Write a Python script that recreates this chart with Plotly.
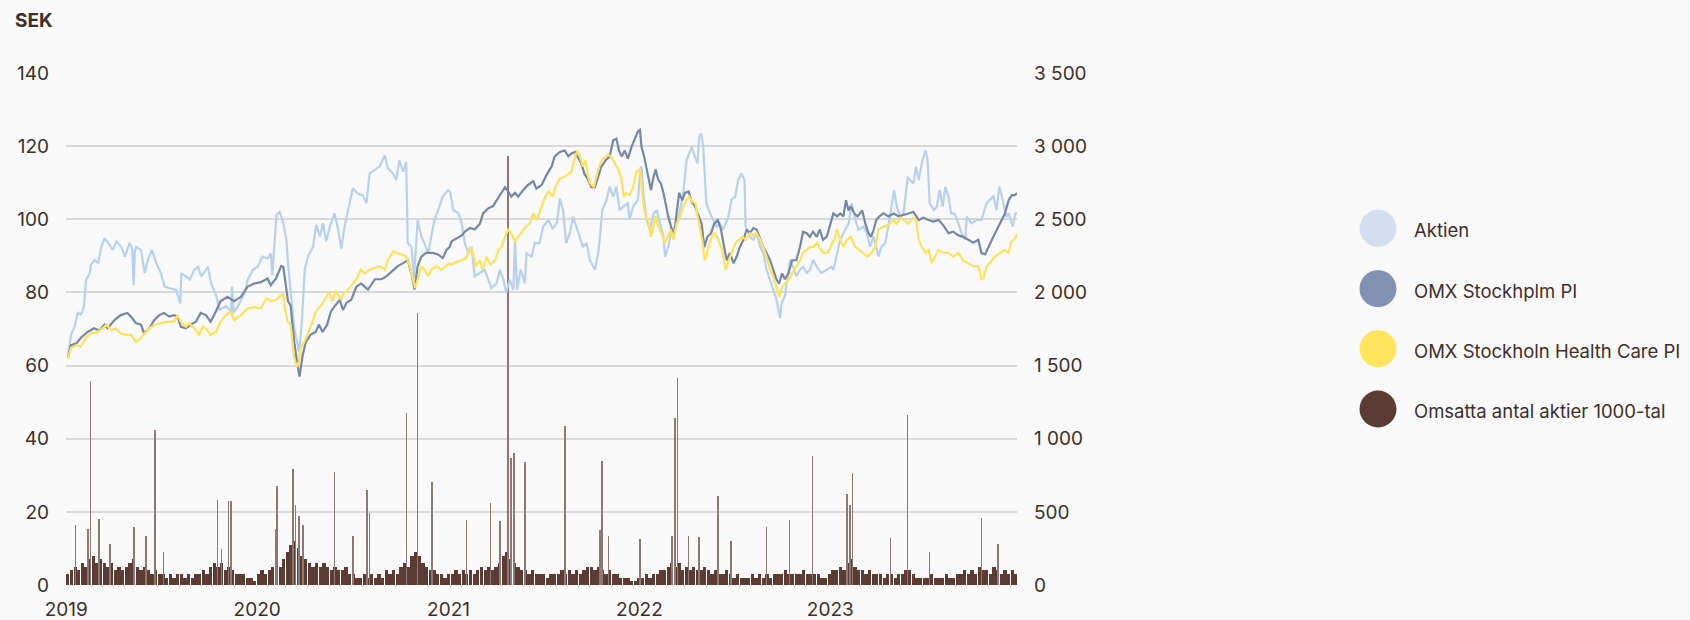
import pandas as pd
import plotly.graph_objects as go

# Day numbers are calendar days counted from 2019-01-01.
START = pd.Timestamp("2019-01-01")

# Share price, SEK (left axis)
aktien = [
    (3, 62.5), (9, 68.4), (16, 70.7), (22, 74.4), (28, 74), (32, 75.3), (34, 76.5), (38, 83.5), (45, 85.3),
    (47, 87.5), (54, 88.9), (61, 88), (67, 92.5), (73, 94.8), (83, 93), (89, 91.6), (96, 93.9), (105, 92.5),
    (112, 89.8), (121, 93.5), (126, 92), (129, 82), (131, 91), (134, 92.5), (143, 91.6), (150, 85.3), (156, 88.9),
    (164, 91.6), (172, 88), (181, 85.3), (188, 81.6), (198, 81.2), (210, 80.7), (218, 77), (220, 85.3), (229, 84.4),
    (236, 83.5), (245, 86.2), (252, 87), (258, 84.4), (271, 87), (277, 82.5), (287, 78.9), (293, 75.3), (306, 76.2),
    (315, 74.7), (317, 81.6), (320, 74.4), (328, 76.2), (341, 79.8), (347, 83.5), (357, 86.2), (366, 87),
    (375, 89.8), (385, 89.3), (391, 90.6), (394, 84.7), (402, 101.2), (408, 102), (415, 98.9), (421, 94.4),
    (424, 88), (431, 78), (436, 70), (442, 66), (445, 63.8), (450, 70.7), (453, 78), (456, 86.2), (462, 89.8),
    (472, 92.5), (478, 98.5), (485, 95.3), (491, 98.9), (497, 93.9), (504, 98), (513, 101.6), (520, 97.1),
    (526, 92), (532, 98), (539, 102.5), (548, 108.5), (558, 107), (567, 106.6), (574, 104.4), (580, 112.5),
    (590, 113.5), (599, 114.4), (609, 117.5), (615, 113.9), (625, 112.5), (631, 110.7), (637, 116.2), (644, 113),
    (650, 115.7), (653, 93.5), (660, 92.5), (665, 84), (672, 99.8), (679, 95.3), (685, 93.5), (692, 90.7),
    (698, 95.3), (704, 99.8), (711, 102.5), (720, 106.2), (730, 108),
    (734, 107.5), (740, 102.5), (750, 101.6), (756, 98.9), (762, 93.5), (769, 90.7), (775, 92.5), (781, 84.4),
    (791, 85.3), (800, 86.2), (807, 83.5), (813, 81.2), (823, 82.5), (829, 86.2), (836, 83.5), (841, 79.8),
    (848, 83.5), (855, 80.7), (858, 94.4), (862, 80.7), (869, 86.2), (877, 82.5), (880, 90.7), (890, 89.8),
    (896, 93.5), (905, 93.5), (912, 98), (922, 99.8), (930, 97.5), (938, 98.9), (944, 105.7), (950, 102.5),
    (956, 93.5), (963, 96.2), (969, 100.7), (975, 98), (982, 95.3), (988, 92.5), (995, 93.5), (1001, 88.9),
    (1011, 86.2), (1017, 90.7), (1020, 94.4), (1025, 102.5), (1033, 105.3), (1039, 108.9), (1046, 106.2),
    (1052, 108.9), (1058, 102.5), (1065, 103.5), (1074, 104.4), (1077, 99.8), (1084, 103.5), (1093, 105.3),
    (1098, 114),
    (1100, 114.4), (1104, 106.2), (1110, 99.8), (1116, 97.1), (1123, 101.6), (1129, 102.5), (1135, 98.9),
    (1142, 95.3), (1145, 89.8), (1151, 92.5), (1158, 97.1), (1164, 98), (1170, 99.8), (1180, 107.1),
    (1186, 116.2), (1196, 119.8), (1202, 117.1), (1207, 115.3), (1210, 122.5), (1214, 123.5), (1218, 119.8),
    (1221, 113.5), (1224, 104.4), (1231, 101.6), (1237, 99.8), (1244, 98), (1250, 98.9), (1256, 97.1),
    (1266, 100.7), (1272, 105.3), (1279, 106.2), (1285, 110.7), (1291, 112.5), (1297, 110.7), (1299, 98),
    (1307, 95.3), (1314, 94.4), (1320, 96.2), (1327, 92.5), (1333, 90.7), (1339, 86.2), (1346, 83.5),
    (1352, 80.7), (1358, 78), (1365, 73), (1368, 77.1), (1374, 78.9), (1384, 88.9), (1390, 87), (1396, 84.4),
    (1403, 86.2), (1409, 87), (1416, 85.3), (1422, 86.2), (1428, 88.9), (1435, 87), (1444, 85.3), (1454, 86.2),
    (1463, 87),
    (1467, 86.2), (1474, 90.7), (1480, 94.4), (1486, 96.2), (1496, 98.9), (1502, 104.4), (1509, 99.8),
    (1515, 97.1), (1524, 98), (1531, 96.2), (1537, 92.5), (1544, 95.3), (1550, 91.6), (1553, 89.8), (1559, 92.5),
    (1566, 93.5), (1572, 98), (1579, 105.3), (1583, 108), (1588, 103.5), (1595, 100.7), (1601, 101.6),
    (1609, 111.6), (1614, 110.7), (1620, 109.8), (1625, 114.4), (1630, 110.7), (1636, 115.3), (1643, 118.9),
    (1647, 116.2), (1651, 104.4), (1659, 102.5), (1665, 103.5), (1670, 108), (1676, 103.5), (1681, 108.9),
    (1687, 106.2), (1692, 101.6), (1698, 101.6), (1706, 98.9), (1712, 96.2), (1719, 94.4), (1722, 100.7),
    (1731, 98.9), (1741, 99.8), (1750, 99.8), (1760, 104.4), (1766, 105.3), (1773, 106.2), (1779, 102.5),
    (1784, 108.9), (1791, 105.3), (1797, 100.7), (1802, 101.6), (1810, 98), (1815, 101.6), (1818, 101.6),
]

# OMX Stockholm PI (right axis)
omx = [
    (3, 1550), (9, 1640), (19, 1650), (28, 1690), (41, 1730), (53, 1755), (63, 1740), (73, 1780), (79, 1755),
    (92, 1810), (104, 1845), (117, 1860), (127, 1820), (133, 1790), (143, 1780), (149, 1720), (159, 1755),
    (168, 1810), (178, 1845), (187, 1860), (197, 1835), (206, 1845), (213, 1835), (219, 1765), (229, 1755),
    (238, 1780), (248, 1800), (257, 1860), (267, 1845), (276, 1800), (286, 1870), (295, 1940), (308, 1970),
    (321, 1940), (334, 1970), (347, 2040), (359, 2060), (372, 2070),
    (385, 2095), (391, 2050), (401, 2095), (411, 2180), (415, 2175), (418, 2090), (424, 1940), (429, 1910),
    (436, 1660), (442, 1505), (446, 1425), (452, 1570), (458, 1660), (467, 1710), (477, 1730), (483, 1780),
    (490, 1730), (499, 1780), (506, 1870), (513, 1905), (523, 1950), (529, 1880), (536, 1930), (545, 1950),
    (555, 2040), (564, 2060), (577, 2020), (590, 2090), (603, 2090), (612, 2110), (625, 2155), (634, 2180),
    (644, 2200), (653, 2220), (660, 2130), (666, 2020), (672, 2180), (679, 2245), (688, 2270), (701, 2270),
    (711, 2260), (720, 2235), (727, 2290),
    (733, 2310), (737, 2350), (746, 2370), (756, 2390), (762, 2415), (772, 2440), (781, 2430), (791, 2470),
    (797, 2540), (807, 2575), (816, 2590), (823, 2630), (832, 2680), (839, 2720), (845, 2690), (851, 2655),
    (858, 2680), (864, 2655), (874, 2700), (883, 2735), (893, 2760), (899, 2710), (909, 2735), (918, 2800),
    (928, 2860), (934, 2930), (944, 2960), (953, 2970), (960, 2930), (966, 2950), (973, 2960), (979, 2915),
    (985, 2880), (991, 2810), (998, 2770), (1004, 2720), (1011, 2720), (1017, 2790), (1023, 2860), (1032, 2905),
    (1039, 2930), (1046, 3040), (1052, 3050), (1057, 2970), (1062, 2930), (1068, 2970), (1074, 2915),
    (1081, 2995), (1087, 3050), (1093, 3100), (1097, 3110),
    (1100, 2995), (1105, 2930), (1110, 2840), (1114, 2770), (1118, 2700), (1123, 2790), (1127, 2840),
    (1132, 2770), (1137, 2745), (1142, 2680), (1146, 2610), (1151, 2520), (1158, 2430), (1163, 2405),
    (1167, 2540), (1172, 2680), (1178, 2630), (1183, 2680), (1190, 2690), (1196, 2620), (1202, 2590),
    (1209, 2520), (1215, 2470), (1220, 2310), (1226, 2380), (1233, 2405), (1239, 2470), (1246, 2495),
    (1252, 2430), (1258, 2310), (1263, 2220), (1269, 2270), (1276, 2200), (1282, 2245), (1288, 2310),
    (1295, 2360), (1301, 2430), (1307, 2405), (1314, 2440), (1320, 2430), (1327, 2360), (1333, 2310),
    (1339, 2270), (1346, 2220), (1352, 2155), (1358, 2090), (1363, 2060), (1369, 2130), (1374, 2090),
    (1381, 2130), (1388, 2220), (1396, 2220), (1403, 2310), (1409, 2415), (1416, 2405), (1422, 2380),
    (1428, 2415), (1435, 2380), (1441, 2430), (1447, 2360), (1454, 2380), (1460, 2450),
    (1467, 2540), (1474, 2520), (1480, 2540), (1486, 2520), (1491, 2630), (1496, 2560), (1500, 2590),
    (1507, 2540), (1513, 2520), (1522, 2560), (1528, 2470), (1534, 2405), (1539, 2380), (1544, 2430),
    (1549, 2495), (1555, 2520), (1563, 2540), (1572, 2520), (1582, 2540), (1592, 2520), (1601, 2530),
    (1611, 2540), (1620, 2550), (1630, 2495), (1639, 2510), (1649, 2495), (1658, 2485), (1668, 2495),
    (1677, 2460), (1687, 2405), (1696, 2415), (1706, 2390), (1715, 2380), (1725, 2360), (1734, 2340),
    (1744, 2360), (1750, 2270), (1757, 2260), (1763, 2310), (1770, 2360), (1776, 2405), (1782, 2450),
    (1789, 2495), (1795, 2540), (1802, 2630), (1808, 2665), (1814, 2665), (1818, 2680),
]

# OMX Stockholm Health Care PI (right axis)
health_care = [
    (3, 1550), (9, 1620), (19, 1640), (28, 1630), (38, 1690), (47, 1720), (60, 1730), (70, 1755), (78, 1780),
    (85, 1740), (95, 1755), (104, 1720), (114, 1710), (124, 1710), (133, 1660), (143, 1690), (152, 1730),
    (162, 1765), (171, 1780), (181, 1790), (194, 1800), (206, 1800), (213, 1845), (219, 1800), (229, 1765),
    (235, 1790), (245, 1755), (254, 1710), (261, 1765), (267, 1755), (276, 1710), (286, 1730), (295, 1800),
    (305, 1845), (315, 1870), (321, 1810), (334, 1845), (347, 1890), (359, 1900), (372, 1890),
    (383, 1960), (392, 1940), (402, 1950), (411, 1985), (415, 1990), (418, 1890), (423, 1800), (429, 1780),
    (436, 1550), (441, 1490), (445, 1530), (448, 1620), (455, 1660), (461, 1710), (471, 1800), (477, 1870),
    (487, 1910), (496, 1960), (502, 2005), (509, 1940), (515, 2010), (525, 1950), (531, 1995), (539, 2020),
    (548, 2060), (555, 2090), (563, 2155), (571, 2130), (580, 2155), (590, 2165), (599, 2180), (609, 2155),
    (615, 2220), (625, 2280), (631, 2270), (641, 2260), (650, 2245), (657, 2180), (663, 2090), (667, 2030),
    (672, 2090), (679, 2180), (685, 2155), (692, 2110), (698, 2155), (708, 2180), (717, 2155), (727, 2180),
    (733, 2200), (737, 2190), (746, 2210), (756, 2220), (765, 2235), (772, 2310), (778, 2270), (783, 2180),
    (791, 2220), (796, 2155), (804, 2245), (811, 2190), (820, 2220), (826, 2290), (832, 2310), (839, 2380),
    (845, 2430), (851, 2405), (858, 2350), (864, 2380), (870, 2405), (879, 2450), (886, 2470), (893, 2540),
    (900, 2495), (907, 2560), (913, 2630), (922, 2690), (930, 2655), (937, 2735), (944, 2780), (953, 2790),
    (960, 2810), (966, 2825), (970, 2890), (977, 2970), (982, 2930), (988, 2860), (993, 2905), (998, 2790),
    (1002, 2745), (1009, 2720), (1015, 2810), (1022, 2890), (1028, 2915), (1036, 2940), (1042, 2930),
    (1049, 2880), (1055, 2850), (1062, 2770), (1066, 2655), (1071, 2680), (1077, 2665), (1084, 2720),
    (1090, 2825), (1096, 2840),
    (1099, 2770), (1104, 2590), (1108, 2520), (1113, 2495), (1118, 2380), (1123, 2470), (1127, 2520),
    (1132, 2450), (1138, 2405), (1145, 2340), (1150, 2380), (1156, 2430), (1161, 2360), (1167, 2470),
    (1174, 2520), (1180, 2590), (1186, 2630), (1191, 2655), (1197, 2620), (1203, 2610), (1210, 2470),
    (1216, 2360), (1221, 2220), (1228, 2310), (1234, 2380), (1240, 2405), (1247, 2360), (1254, 2290),
    (1261, 2155), (1267, 2220), (1274, 2290), (1280, 2340), (1286, 2360), (1293, 2380), (1299, 2360),
    (1307, 2405), (1314, 2390), (1320, 2405), (1327, 2360), (1333, 2310), (1339, 2245), (1346, 2155),
    (1352, 2110), (1358, 2040), (1363, 1970), (1369, 2040), (1375, 2060), (1382, 2090), (1388, 2130),
    (1396, 2180), (1403, 2220), (1409, 2270), (1416, 2290), (1422, 2310), (1428, 2310), (1436, 2340),
    (1443, 2290), (1449, 2270), (1456, 2270), (1462, 2310),
    (1468, 2360), (1474, 2430), (1480, 2360), (1486, 2310), (1493, 2360), (1500, 2380), (1509, 2310),
    (1517, 2290), (1524, 2270), (1532, 2245), (1540, 2270), (1547, 2310), (1553, 2430), (1563, 2450),
    (1572, 2460), (1582, 2495), (1588, 2470), (1595, 2510), (1602, 2495), (1610, 2470), (1619, 2510),
    (1625, 2495), (1630, 2360), (1636, 2310), (1643, 2270), (1649, 2290), (1655, 2200), (1662, 2245),
    (1668, 2290), (1677, 2270), (1687, 2270), (1696, 2245), (1706, 2270), (1715, 2220), (1725, 2200),
    (1734, 2180), (1744, 2180), (1750, 2090), (1754, 2100), (1760, 2180), (1766, 2200), (1776, 2245),
    (1785, 2270), (1795, 2290), (1802, 2270), (1806, 2340), (1814, 2370), (1818, 2400),
]

# Traded shares, thousands: typical weekly level (one value per week, first week ending 2019-01-04)
volume_weekly = [
    3, 4, 5, 4, 6, 5, 7, 8, 6, 7, 6, 5, 6, 4, 5, 4, 5, 6, 7, 5, 4, 5, 4, 3, 4, 3, 3, 2, 3, 2, 3, 3, 2, 3, 2,
    3, 3, 4, 3, 5, 6, 5, 6, 4, 5, 4, 3, 3, 3, 2, 2, 1,
    3, 4, 3, 4, 5, 6, 5, 7, 9, 11, 12, 10, 8, 7, 6, 5, 6, 5, 6, 5, 4, 5, 4, 4, 5, 3, 3, 2, 2, 3, 2, 3, 2, 3, 2,
    4, 3, 4, 3, 5, 6, 5, 8, 9, 8, 6, 5, 4, 4, 3, 3, 2,
    3, 3, 4, 3, 4, 3, 4, 3, 4, 5, 4, 5, 4, 5, 6, 8, 9, 7, 6, 5, 4, 4, 3, 4, 3, 3, 3, 2, 3, 3, 3, 4, 3, 4, 3,
    4, 3, 4, 5, 5, 4, 5, 4, 3, 4, 3, 3, 2, 2, 2, 1, 1,
    2, 2, 3, 2, 3, 3, 4, 4, 5, 6, 5, 6, 4, 5, 4, 5, 4, 4, 5, 4, 3, 4, 3, 3, 4, 3, 2, 3, 2, 2, 2, 3, 2, 3, 2,
    3, 2, 3, 3, 3, 4, 3, 3, 3, 3, 4, 3, 3, 3, 3, 2, 2,
    3, 4, 4, 5, 4, 6, 7, 5, 4, 4, 3, 4, 3, 3, 3, 2, 3, 3, 2, 3, 3, 4, 4, 3, 2, 2, 2, 2, 3, 2, 2, 2, 3, 2, 2,
    3, 3, 4, 3, 4, 3, 5, 4, 4, 3, 5, 4, 3, 4, 3, 4, 3,
]

# Traded shares, thousands: single heavy trading days
volume_peaks = [
    (18, 16.3), (42, 15.4), (46, 55.8), (63, 18.1), (84, 11.3), (130, 15.8), (152, 13.5), (170, 42.4),
    (186, 9.1), (289, 23.3), (297, 9.9), (310, 22.9), (315, 23), (400, 15.4), (403, 27), (434, 31.6),
    (438, 22), (445, 19), (453, 16.5), (513, 30.9), (548, 13.5), (575, 26), (580, 19.8), (651, 47.1),
    (672, 74.4), (699, 28.1), (765, 17.7), (811, 22.4), (829, 17.4), (845, 117.4), (850, 34.6), (856, 36),
    (877, 33.7), (954, 43.4), (1021, 15.1), (1024, 33.9), (1037, 13.5), (1097, 12.6), (1158, 13.4),
    (1164, 45.6), (1169, 56.7), (1190, 13.4), (1210, 13), (1246, 24.4), (1271, 12.1), (1339, 15.8),
    (1383, 17.8), (1427, 35.4), (1493, 25), (1499, 21.8), (1503, 30.5), (1576, 12.9), (1609, 46.5),
    (1651, 9), (1750, 18.4), (1782, 11.3),
]

year_ticks = ["2019-01-01", "2020-01-01", "2021-01-01", "2022-01-01", "2023-01-01"]
year_labels = ["2019", "2020", "2021", "2022", "2023"]
left_ticks = [0, 20, 40, 60, 80, 100, 120, 140]
right_ticks = [0, 500, 1000, 1500, 2000, 2500, 3000, 3500]
right_labels = ["0", "500", "1 000", "1 500", "2 000", "2 500", "3 000", "3 500"]

legend_items = [
    ("Aktien", "#d5ddf0"),
    ("OMX Stockhplm PI", "#8191b0"),
    ("OMX Stockholn Health Care PI", "#ffe45e"),
    ("Omsatta antal aktier 1000-tal", "#5a3c34"),
]

TEXT = "#3b2f2b"
FONT = "Inter"
DAY_MS = 86400000


def dates(days):
    return START + pd.to_timedelta(list(days), unit="D")


def split(pairs):
    d, v = zip(*pairs)
    return dates(d), list(v)


fig = go.Figure()

week_days = [3 + 7 * i for i in range(len(volume_weekly))]
fig.add_trace(go.Bar(
    x=dates(week_days), y=volume_weekly, width=[6.3 * DAY_MS] * len(volume_weekly),
    marker=dict(color="#5a3c34", line=dict(width=0)), yaxis="y", showlegend=False,
    name="Omsatta antal aktier 1000-tal",
))
pk_x, pk_y = split(volume_peaks)
fig.add_trace(go.Bar(
    x=pk_x, y=pk_y, width=[1.0 * DAY_MS] * len(pk_y),
    marker=dict(color="#8d7873", line=dict(width=0)), yaxis="y", showlegend=False,
    name="Omsatta antal aktier 1000-tal",
))

ax, ay = split(aktien)
fig.add_trace(go.Scatter(x=ax, y=ay, mode="lines", yaxis="y", name="Aktien",
                         line=dict(color="#b8d1ea", width=2.2), showlegend=False))
ox, oy = split(omx)
fig.add_trace(go.Scatter(x=ox, y=oy, mode="lines", yaxis="y2", name="OMX Stockhplm PI",
                         line=dict(color="#7586a6", width=2.2), showlegend=False))
hx, hy = split(health_care)
fig.add_trace(go.Scatter(x=hx, y=hy, mode="lines", yaxis="y2", name="OMX Stockholn Health Care PI",
                         line=dict(color="#fde25a", width=2.2), showlegend=False))

# Legend drawn as large dots with labels to the right of the plot
shapes = []
annotations = []
row_y = [0.6967, 0.5787, 0.4615, 0.3438]
for (label, color), yy in zip(legend_items, row_y):
    shapes.append(dict(
        type="circle", xref="paper", yref="paper", xsizemode="pixel", ysizemode="pixel",
        xanchor=1.3796, yanchor=yy, x0=-18.5, x1=18.5, y0=-18.5, y1=18.5,
        fillcolor=color, line=dict(width=0),
    ))
    annotations.append(dict(
        text=label, xref="paper", yref="paper", x=1.4154, y=yy - 0.004,
        xanchor="left", yanchor="middle", showarrow=False,
        font=dict(family=FONT, size=18.5, color=TEXT),
    ))

annotations.append(dict(
    text="<b>SEK</b>", xref="paper", yref="paper", x=-0.0557, y=1.1035,
    xanchor="left", yanchor="middle", showarrow=False,
    font=dict(family=FONT, size=19, color=TEXT),
))

fig.update_layout(
    width=1690, height=620,
    margin=dict(l=66, r=673, t=73, b=35, autoexpand=False),
    paper_bgcolor="#f9f9f9", plot_bgcolor="#f9f9f9",
    barmode="overlay", bargap=0,
    font=dict(family=FONT, size=19, color=TEXT),
    shapes=shapes, annotations=annotations,
    hovermode=False,
    xaxis=dict(
        type="date", range=[START - pd.Timedelta(hours=12), START + pd.Timedelta(days=1818)],
        tickvals=year_ticks, ticktext=year_labels, showgrid=False, zeroline=False,
        showline=False, ticks="", ticklabelstandoff=11, automargin=False,
        tickfont=dict(family=FONT, size=19, color=TEXT),
    ),
    yaxis=dict(
        range=[0, 140], tickvals=left_ticks, showgrid=True, gridcolor="#d8d8d8", gridwidth=1.6,
        zeroline=False, showline=False, ticks="", ticklabelstandoff=16, automargin=False,
        tickfont=dict(family=FONT, size=19, color=TEXT),
    ),
    yaxis2=dict(
        range=[0, 3500], tickvals=right_ticks, ticktext=right_labels, overlaying="y", side="right",
        showgrid=False, zeroline=False, showline=False, ticks="", ticklabelstandoff=16,
        automargin=False, tickfont=dict(family=FONT, size=19, color=TEXT),
    ),
)

fig.write_html("out.html")
